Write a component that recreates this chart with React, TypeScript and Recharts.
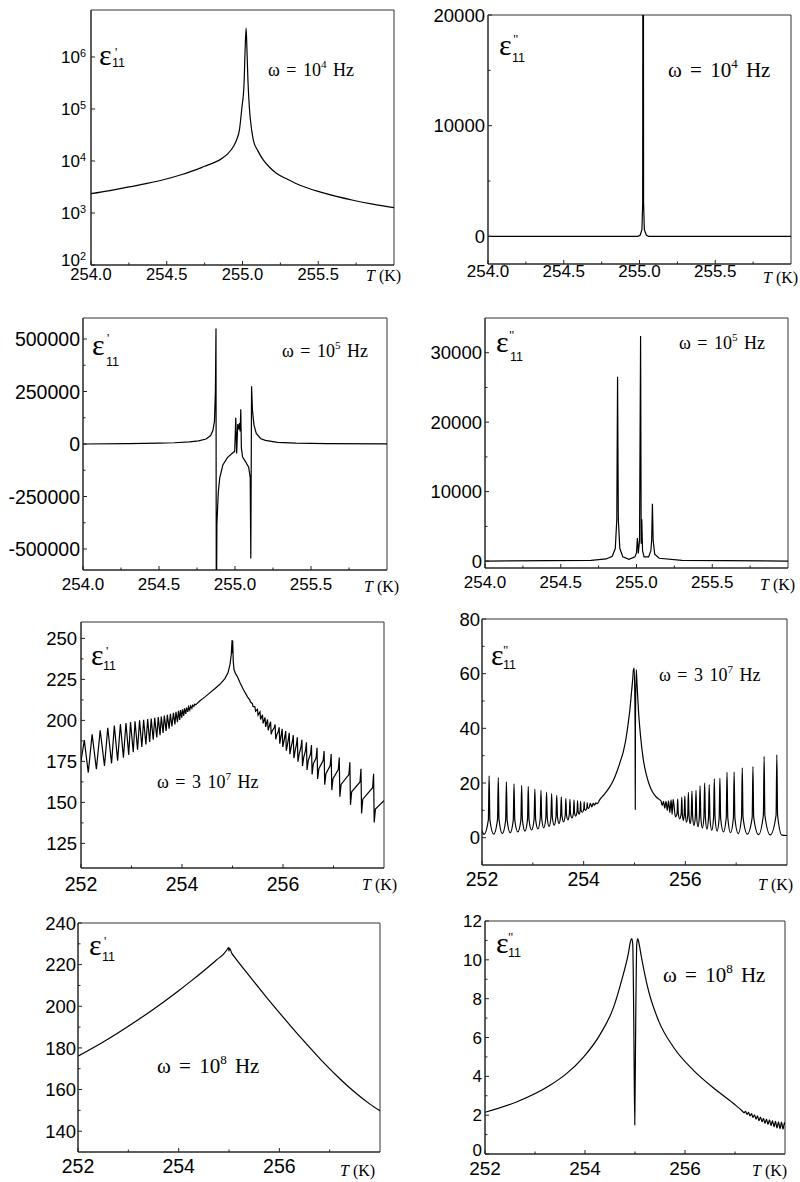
import React from 'react';
import { LineChart, Line, XAxis, YAxis, ReferenceArea } from 'recharts';

type Pt = [number, number];

// ---------------- series values: [T (K), value] ----------------
const epsRe_1e4: Pt[] = [
  [254.0, 2360], [254.125, 2700], [254.25, 3170], [254.37, 3700], [254.49, 4450], [254.6, 5500],
  [254.7, 6900], [254.75, 7900], [254.8, 9000], [254.85, 10500], [254.9, 13500], [254.94, 19000],
  [254.96, 25000], [254.98, 40000], [254.995, 100000], [255.01, 300000], [255.017, 1300000],
  [255.024, 3600000], [255.03, 1200000], [255.036, 350000], [255.046, 100000], [255.06, 40000],
  [255.072, 25000], [255.1, 16000], [255.138, 10350], [255.18, 7500], [255.226, 5730], [255.3, 4400],
  [255.38, 3410], [255.51, 2540], [255.62, 2080], [255.73, 1755], [255.86, 1480], [256.0, 1268],
];

const epsIm_1e4: Pt[] = [
  [254.0, 0], [254.99, 0], [255.005, 120], [255.016, 600], [255.021, 3000], [255.024, 60000],
  [255.027, 3000], [255.032, 600], [255.045, 120], [255.06, 0], [256.0, 0],
];

const epsRe_1e5: Pt[] = [
  [254.0, 0], [254.3, 2000], [254.5, 4000], [254.6, 6000], [254.7, 10000], [254.76, 15000],
  [254.81, 24000], [254.84, 40000], [254.855, 65000], [254.865, 110000], [254.871, 250000],
  [254.875, 550000], [254.877, -900000], [254.881, -380000], [254.89, -230000], [254.9, -160000],
  [254.92, -100000], [254.95, -65000], [254.98, -45000], [254.998, -35000], [255.005, 125000],
  [255.011, -45000], [255.018, 95000], [255.024, 70000], [255.03, 100000], [255.034, 60000],
  [255.038, 165000], [255.042, -20000], [255.05, -62000], [255.07, -85000], [255.09, -110000],
  [255.1, -160000], [255.104, -545000], [255.109, 275000], [255.115, 160000], [255.125, 90000],
  [255.14, 50000], [255.17, 25000], [255.2, 17000], [255.28, 8000], [255.4, 4000], [255.6, 2000],
  [256.0, 800],
];

const epsIm_1e5: Pt[] = [
  [254.0, 0], [254.7, 100], [254.8, 300], [254.84, 700], [254.86, 1800], [254.87, 6000],
  [254.875, 26550], [254.88, 6000], [254.89, 1800], [254.91, 600], [254.95, 250], [254.99, 600],
  [255.0, 1200], [255.006, 3300], [255.012, 1100], [255.02, 3000], [255.027, 32400], [255.031, 2500],
  [255.035, 6030], [255.04, 1500], [255.05, 600], [255.08, 600], [255.095, 1500], [255.1, 3000],
  [255.105, 8240], [255.11, 3000], [255.12, 1000], [255.15, 400], [255.3, 100], [256.0, 0],
];

const epsRe_3e7: Pt[] = [
  [252.0, 175], [252.065, 188], [252.144, 168.2], [252.22, 191.5], [252.305, 170.2],
  [252.38, 194], [252.465, 172.2], [252.53, 195.5], [252.605, 173.8], [252.66, 196.8], [252.725, 175.5],
  [252.78, 197.7], [252.84, 177.2], [252.89, 198.4], [252.945, 179], [252.98, 199], [253.035, 180.6],
  [253.07, 199.5], [253.12, 182.2], [253.16, 200], [253.205, 183.8], [253.24, 200.4], [253.285, 185.3],
  [253.32, 200.8], [253.36, 186.8], [253.39, 201.2], [253.43, 188.2], [253.46, 201.6], [253.5, 189.6],
  [253.53, 202], [253.565, 191], [253.59, 202.4], [253.625, 192.3], [253.65, 202.9], [253.685, 193.6],
  [253.71, 203.4], [253.745, 195], [253.77, 204], [253.8, 196.3], [253.83, 204.6], [253.86, 197.6],
  [253.88, 205.2], [253.91, 199], [253.93, 205.8], [253.955, 200.3], [253.97, 206.3], [253.995, 201.6],
  [254.01, 206.8], [254.035, 202.8], [254.05, 207.3], [254.075, 204], [254.09, 207.8], [254.115, 205.2],
  [254.13, 208.3], [254.155, 206.3], [254.17, 208.8], [254.195, 207.4], [254.21, 209.3], [254.235, 208.5],
  [254.25, 209.8], [254.275, 209.6], [254.35, 211.8], [254.45, 214.2], [254.55, 216.8], [254.65, 219.3],
  [254.75, 222], [254.85, 225.5], [254.91, 229], [254.95, 234], [254.975, 240],
  [254.992, 249], [254.998, 241], [255.004, 248.5], [255.015, 236], [255.03, 231], [255.06, 228.5],
  [255.1, 226.5], [255.15, 223], [255.22, 218.5], [255.3, 214.2],
  [255.344, 212.4], [255.356, 211.2], [255.394, 210.3], [255.406, 208.5],
  [255.444, 208.3], [255.456, 205.6], [255.494, 206.8], [255.506, 203.2], [255.544, 205.2], [255.556, 200.6],
  [255.594, 203.4], [255.606, 198.2], [255.644, 201.8], [255.656, 196.0], [255.694, 200.6], [255.706, 194.0],
  [255.754, 199.2], [255.766, 191.5], [255.785, 193.5], [255.825, 195.5], [255.844, 197.5], [255.856, 188.5],
  [255.88, 191.5], [255.905, 193], [255.924, 195.8], [255.936, 185.8], [255.984, 194.8], [255.996, 183.8],
  [256.02, 187.5], [256.035, 190], [256.054, 193.5], [256.066, 181.5], [256.09, 185.5], [256.105, 188.5],
  [256.124, 192.4], [256.136, 179.4], [256.16, 183.5], [256.185, 187], [256.204, 191.0], [256.216, 177.0],
  [256.24, 181.5], [256.265, 185], [256.284, 189.7], [256.296, 174.8], [256.32, 179.5], [256.355, 183.5],
  [256.374, 188.2], [256.386, 172.2], [256.41, 177.5], [256.445, 181.5], [256.464, 186.7], [256.476, 169.8],
  [256.5, 175.5], [256.545, 179.5], [256.564, 185.0], [256.576, 167.0], [256.6, 173.5], [256.655, 177],
  [256.674, 183.3], [256.686, 164.3], [256.71, 170.5], [256.795, 175.5], [256.814, 181.3], [256.826, 160.8],
  [256.85, 167.5], [256.935, 172.5], [256.954, 179.5], [256.966, 157.5], [256.99, 164.5], [257.095, 170],
  [257.114, 177.3], [257.126, 153.5], [257.15, 161], [257.305, 167], [257.324, 174.5], [257.336, 148.5],
  [257.36, 156.5], [257.525, 162.5], [257.544, 170.5], [257.556, 143.3], [257.58, 152], [257.775, 159],
  [257.794, 167.5], [257.806, 137.8], [257.83, 146], [258.0, 151],
];

const epsIm_3e7: Pt[] = [
  [252.0, 2.5], [252.04, 1.2], [252.125, 6.5], [252.14, 22.6], [252.155, 6.5], [252.23, 1.3],
  [252.305, 6.6], [252.32, 22], [252.335, 6.6], [252.4, 1.5], [252.465, 6.3], [252.48, 20.4], [252.495, 6.3], [252.555, 1.8],
  [252.615, 6.4], [252.63, 19.7], [252.645, 6.4], [252.705, 2.1], [252.765, 6.5], [252.78, 19.1], [252.795, 6.5], [252.845, 2.4],
  [252.895, 6.6], [252.91, 18.7], [252.925, 6.6], [252.975, 2.8], [253.025, 6.7], [253.04, 17.8], [253.055, 6.7], [253.1, 3.2],
  [253.145, 6.9], [253.16, 17.3], [253.175, 6.9], [253.215, 3.6], [253.255, 7.1], [253.27, 16.7], [253.285, 7.1], [253.32, 4.1],
  [253.355, 7.3], [253.37, 16.1], [253.385, 7.3], [253.42, 4.6], [253.455, 7.6], [253.47, 15.5], [253.485, 7.6], [253.515, 5.2],
  [253.546, 7.9], [253.56, 14.9], [253.574, 7.9], [253.605, 5.8], [253.637, 8.2], [253.65, 14.4], [253.663, 8.2], [253.69, 6.5],
  [253.718, 8.7], [253.73, 14], [253.742, 8.7], [253.77, 7.2], [253.799, 9.1], [253.81, 13.8], [253.821, 9.1], [253.845, 7.9],
  [253.87, 9.6], [253.88, 13.6], [253.89, 9.6], [253.91, 8.6], [253.931, 10], [253.94, 13.3], [253.949, 10], [253.975, 9.3],
  [254.002, 10.5], [254.01, 13.1], [254.018, 10.5], [254.04, 10], [254.063, 11], [254.07, 12.8], [254.077, 11], [254.1, 10.7],
  [254.13, 12.6], [254.16, 11.3], [254.19, 12.6], [254.215, 11.9], [254.24, 12.7], [254.265, 12.4],
  [254.32, 14.0], [254.4, 15.7], [254.5, 18.2], [254.58, 20.8], [254.66, 24.5], [254.72, 27.8], [254.78, 31.5],
  [254.83, 36], [254.87, 41], [254.91, 47], [254.94, 53], [254.965, 58], [254.98, 61.5], [254.995, 62],
  [255.012, 40], [255.015, 10.3], [255.018, 40], [255.035, 61.5], [255.05, 56], [255.08, 46], [255.12, 37],
  [255.17, 29], [255.24, 22.5], [255.32, 18], [255.4, 15.5], [255.47, 14.2],
  [255.52, 13.5], [255.545, 11.8], [255.57, 13.3], [255.595, 10.8], [255.62, 13.3], [255.645, 10.0],
  [255.67, 13.5], [255.695, 9.2], [255.72, 13.8], [255.74, 8.5], [255.76, 14.0], [255.805, 7.6],
  [255.838, 9.0], [255.85, 14.2], [255.862, 8.8], [255.89, 6.9], [255.918, 8.8], [255.93, 14.8], [255.942, 8.6], [255.96, 6.3],
  [255.978, 8.4], [255.99, 15.2], [256.002, 8.2], [256.025, 5.7], [256.047, 8.2], [256.06, 16.6], [256.073, 8.0], [256.095, 5.1],
  [256.116, 7.9], [256.13, 17], [256.144, 7.7], [256.17, 4.5], [256.196, 7.6], [256.21, 17.3], [256.224, 7.4], [256.25, 4.0],
  [256.275, 7.7], [256.29, 19], [256.305, 7.5], [256.335, 3.5], [256.365, 7.5], [256.38, 20], [256.395, 7.4], [256.425, 3.1],
  [256.455, 7], [256.47, 19.3], [256.485, 6.9], [256.52, 2.7], [256.555, 7.3], [256.57, 21.5], [256.585, 7.2], [256.625, 2.4],
  [256.665, 7.1], [256.68, 21.7], [256.695, 7.0], [256.75, 2.1], [256.805, 7.4], [256.82, 23.9], [256.835, 7.4], [256.89, 1.8],
  [256.945, 7.2], [256.96, 24], [256.975, 7.2], [257.04, 1.5], [257.105, 7.4], [257.12, 25.5], [257.135, 7.4], [257.22, 1.3],
  [257.315, 7.4], [257.33, 26], [257.345, 7.4], [257.44, 1.1], [257.535, 8.2], [257.55, 29.7], [257.565, 8.2], [257.67, 1.0],
  [257.785, 8.2], [257.8, 30.3], [257.815, 8.2], [257.9, 0.9], [258.0, 0.8],
];

const epsRe_1e8: Pt[] = [
  [252.0, 176], [252.5, 182.8], [253.0, 190.4], [253.5, 198.6], [254.0, 207.5], [254.25, 212.2],
  [254.5, 217.1], [254.75, 222.2], [254.9, 225.3], [254.97, 227.5], [254.99, 228.2], [255.0, 226.5],
  [255.01, 228], [255.03, 227], [255.06, 225.3], [255.1, 224], [255.4, 214.7], [255.75, 204.2],
  [256.1, 194.1], [256.45, 184.3], [256.8, 175.0], [257.15, 166.4], [257.5, 158.7], [257.8, 153.0],
  [258.0, 149.8],
];

const epsIm_1e8: Pt[] = [
  [252.0, 2.15], [252.63, 2.68], [253.3, 3.54], [253.63, 4.14], [253.97, 4.99], [254.3, 6.15],
  [254.57, 7.55], [254.73, 8.92], [254.87, 10.37], [254.91, 10.95], [254.935, 11.1], [254.955, 10.8],
  [254.975, 7], [254.995, 1.5], [255.015, 7], [255.035, 10.8], [255.055, 11.1], [255.08, 10.85],
  [255.13, 10.12], [255.27, 8.41], [255.47, 6.87], [255.77, 5.5], [256.17, 4.31], [256.63, 3.28],
  [256.97, 2.6], [257.15, 2.2], [257.18, 2.12], [257.21, 2.2], [257.24, 2.04], [257.27, 2.14], [257.3, 1.96],
  [257.33, 2.08], [257.36, 1.88], [257.39, 2.02], [257.42, 1.8], [257.45, 1.96], [257.48, 1.72], [257.51, 1.9],
  [257.54, 1.66], [257.57, 1.84], [257.6, 1.58], [257.63, 1.8], [257.66, 1.52], [257.69, 1.76], [257.72, 1.46],
  [257.75, 1.72], [257.78, 1.4], [257.81, 1.68], [257.84, 1.34], [257.87, 1.66], [257.9, 1.3], [257.93, 1.64],
  [257.96, 1.28], [257.99, 1.62], [258.0, 1.5],
];

// ---------------- ticks & labels ----------------
const xMajorA = [254.0, 254.5, 255.0, 255.5];
const xMinorA = [254.25, 254.75, 255.25, 255.75];
const xLabelsA = ['254.0', '254.5', '255.0', '255.5'];
const xMajorB = [252, 254, 256];
const xMinorB = [253, 255, 257];
const xLabelsB = ['252', '254', '256'];

const y1Major = [1e2, 1e3, 1e4, 1e5, 1e6];
const y1Exps = ['2', '3', '4', '5', '6'];
const y2Major = [0, 10000, 20000];
const y2Minor = [5000, 15000];
const y3Major = [-500000, -250000, 0, 250000, 500000];
const y3Minor = [-375000, -125000, 125000, 375000];
const y4Major = [0, 10000, 20000, 30000];
const y4Minor = [5000, 15000, 25000];
const y5Major = [125, 150, 175, 200, 225, 250];
const y5Minor = [137.5, 162.5, 187.5, 212.5, 237.5];
const y6Major = [0, 20, 40, 60, 80];
const y6Minor = [10, 30, 50, 70];
const y7Major = [140, 160, 180, 200, 220, 240];
const y7Minor = [150, 170, 190, 210, 230];
const y8Major = [0, 2, 4, 6, 8, 10, 12];
const y8Minor = [1, 3, 5, 7, 9, 11];

const SANS = '"Liberation Sans", Arial, Helvetica, sans-serif';
const SERIF = '"Liberation Serif", "Times New Roman", Times, serif';
const AX = '#222';

interface Spec {
  data: Pt[];
  col: number;
  l: number; t: number; r: number; b: number;
  xDomain: [number, number];
  yDomain: [number, number];
  xMajor: number[]; xMinor: number[]; xLabels: string[];
  yMajor: number[]; yMinor: number[]; yExps?: string[];
  log?: boolean;
  xFont: number; xGap: number; yFont: number; yGap: number; yLowShift: number;
  curve: 'linear' | 'monotone';
}

const panels: Spec[] = [
  { data: epsRe_1e4, col: 0, l: 91, t: 10, r: 394, b: 265, xDomain: [254, 256], yDomain: [100, 8e6],
    xMajor: xMajorA, xMinor: xMinorA, xLabels: xLabelsA, yMajor: y1Major, yMinor: [], yExps: y1Exps, log: true,
    xFont: 16.5, xGap: 3, yFont: 17, yGap: 5, yLowShift: -5, curve: 'monotone' },
  { data: epsIm_1e4, col: 1, l: 488, t: 15, r: 791, b: 264, xDomain: [254, 256], yDomain: [-2500, 20000],
    xMajor: xMajorA, xMinor: xMinorA, xLabels: xLabelsA, yMajor: y2Major, yMinor: y2Minor,
    xFont: 17, xGap: 1, yFont: 18.5, yGap: 3, yLowShift: 0, curve: 'linear' },
  { data: epsRe_1e5, col: 0, l: 83, t: 318, r: 387, b: 570, xDomain: [254, 256], yDomain: [-600000, 600000],
    xMajor: xMajorA, xMinor: xMinorA, xLabels: xLabelsA, yMajor: y3Major, yMinor: y3Minor,
    xFont: 17, xGap: 8, yFont: 19.5, yGap: 3, yLowShift: 0, curve: 'linear' },
  { data: epsIm_1e5, col: 1, l: 485, t: 318, r: 788, b: 568, xDomain: [254, 256], yDomain: [-1000, 35000],
    xMajor: xMajorA, xMinor: xMinorA, xLabels: xLabelsA, yMajor: y4Major, yMinor: y4Minor,
    xFont: 17, xGap: 8, yFont: 18.5, yGap: 3, yLowShift: 0, curve: 'linear' },
  { data: epsRe_3e7, col: 0, l: 81, t: 622, r: 384, b: 868, xDomain: [252, 258], yDomain: [110, 260],
    xMajor: xMajorB, xMinor: xMinorB, xLabels: xLabelsB, yMajor: y5Major, yMinor: y5Minor,
    xFont: 19.5, xGap: 9, yFont: 18.5, yGap: 4, yLowShift: 0, curve: 'linear' },
  { data: epsIm_3e7, col: 1, l: 482, t: 619, r: 787, b: 865, xDomain: [252, 258], yDomain: [-10, 80],
    xMajor: xMajorB, xMinor: xMinorB, xLabels: xLabelsB, yMajor: y6Major, yMinor: y6Minor,
    xFont: 19.5, xGap: 7, yFont: 18.5, yGap: 2, yLowShift: 0, curve: 'monotone' },
  { data: epsRe_1e8, col: 0, l: 78, t: 923, r: 380, b: 1152, xDomain: [252, 258], yDomain: [130, 240],
    xMajor: xMajorB, xMinor: xMinorB, xLabels: xLabelsB, yMajor: y7Major, yMinor: y7Minor,
    xFont: 19.5, xGap: 7, yFont: 18.5, yGap: 2, yLowShift: 0, curve: 'monotone' },
  { data: epsIm_1e8, col: 1, l: 485, t: 921, r: 785, b: 1154, xDomain: [252, 258], yDomain: [0, 12],
    xMajor: xMajorB, xMinor: xMinorB, xLabels: xLabelsB, yMajor: y8Major, yMinor: y8Minor,
    xFont: 19, xGap: 7, yFont: 17, yGap: 3, yLowShift: -4, curve: 'monotone' },
];

const XTick = (p: any) => {
  const { x, y, payload, s } = p;
  const spec: Spec = s;
  const i = spec.xMajor.indexOf(payload.value);
  const len = i >= 0 ? 4 : 2.5;
  return (
    <g>
      <line x1={x} y1={y} x2={x} y2={y - len} stroke={AX} strokeWidth={1} />
      {i >= 0 ? (
        <text x={x} y={y + spec.xGap} dy="0.72em" textAnchor="middle" fontFamily={SANS} fontSize={spec.xFont} fill="#000">
          {spec.xLabels[i]}
        </text>
      ) : null}
    </g>
  );
};

const YTick = (p: any) => {
  const { x, y, payload, s } = p;
  const spec: Spec = s;
  const i = spec.yMajor.indexOf(payload.value);
  const len = i >= 0 ? 4 : 2.5;
  const ty = i === 0 ? y + spec.yLowShift : y;
  let label: React.ReactNode = null;
  if (i >= 0) {
    if (spec.yExps) {
      label = (
        <text x={x - spec.yGap} y={ty} dy="0.36em" textAnchor="end" fontFamily={SANS} fontSize={spec.yFont} fill="#000">
          10<tspan dy={-6} fontSize={spec.yFont * 0.64}>{spec.yExps[i]}</tspan>
        </text>
      );
    } else {
      label = (
        <text x={x - spec.yGap} y={ty} dy="0.36em" textAnchor="end" fontFamily={SANS} fontSize={spec.yFont} fill="#000">
          {String(spec.yMajor[i])}
        </text>
      );
    }
  }
  return (
    <g>
      <line x1={x} y1={y} x2={x + len} y2={y} stroke={AX} strokeWidth={1} />
      {label}
    </g>
  );
};

function Panel({ s }: { s: Spec }) {
  const chartLeft = s.col * 400;
  const chartTop = s.t - 12;
  const height = s.b - chartTop + 34;
  const data = s.data.map(([T, v]) => ({ T, v }));
  return (
    <div style={{ position: 'absolute', left: chartLeft, top: chartTop }}>
      <LineChart width={400} height={height} data={data}
        margin={{ top: 12, right: chartLeft + 400 - s.r, bottom: 0, left: 0 }}>
        <XAxis dataKey="T" type="number" domain={s.xDomain} ticks={[...s.xMajor, ...s.xMinor]} interval={0}
          allowDataOverflow tickSize={0} tickMargin={0} height={34} axisLine={{ stroke: AX }} tickLine={false}
          tick={(p: any) => <XTick {...p} s={s} />} />
        <YAxis type="number" domain={s.yDomain} ticks={[...s.yMajor, ...s.yMinor]} interval={0}
          scale={s.log ? 'log' : 'auto'} allowDataOverflow tickSize={0} tickMargin={0} width={s.l - chartLeft}
          axisLine={{ stroke: AX }} tickLine={false} tick={(p: any) => <YTick {...p} s={s} />} />
        <ReferenceArea x1={s.xDomain[0]} x2={s.xDomain[1]} y1={s.yDomain[0]} y2={s.yDomain[1]}
          fill="none" fillOpacity={0} stroke="#333" strokeWidth={1} ifOverflow="visible" />
        <Line type={s.curve} dataKey="v" stroke="#000" strokeWidth={1.2} dot={false} isAnimationActive={false} />
      </LineChart>
    </div>
  );
}

// ---------------- text labels ----------------
interface EpsLab { x: number; y: number; marks: string; px: number; py: number; sx: number; sy: number }
const epsLabels: EpsLab[] = [
  { x: 99, y: 65, marks: "'", px: 115, py: 56, sx: 112, sy: 67 },
  { x: 499, y: 55, marks: '"', px: 513, py: 43, sx: 512, sy: 62 },
  { x: 92, y: 355, marks: "'", px: 107, py: 342, sx: 106, sy: 366 },
  { x: 496, y: 352, marks: '"', px: 509, py: 339, sx: 510, sy: 361 },
  { x: 91, y: 665, marks: "'", px: 106, py: 655, sx: 103, sy: 670 },
  { x: 491, y: 665, marks: '"', px: 503, py: 654, sx: 503, sy: 669 },
  { x: 89, y: 955, marks: "'", px: 104, py: 945, sx: 102, sy: 961 },
  { x: 496, y: 953, marks: '"', px: 508, py: 941, sx: 508, sy: 957 },
];

interface OmLab { x: number; y: number; size: number; pre: string; exp: string; ws: number }
const omegaLabels: OmLab[] = [
  { x: 268, y: 76, size: 18, pre: '', exp: '4', ws: 2 },
  { x: 668, y: 77, size: 21, pre: '', exp: '4', ws: 3 },
  { x: 282, y: 357, size: 18, pre: '', exp: '5', ws: 2 },
  { x: 679, y: 349, size: 18, pre: '', exp: '5', ws: 2 },
  { x: 157, y: 788, size: 18, pre: '3 ', exp: '7', ws: 2 },
  { x: 659, y: 681, size: 18, pre: '3 ', exp: '7', ws: 2 },
  { x: 157, y: 1073, size: 21, pre: '', exp: '8', ws: 3 },
  { x: 663, y: 982, size: 21, pre: '', exp: '8', ws: 3 },
];

const tkLabels: { x: number; y: number }[] = [
  { x: 366, y: 281 }, { x: 763, y: 283 }, { x: 364, y: 592 }, { x: 760, y: 590 },
  { x: 362, y: 890 }, { x: 758, y: 890 }, { x: 340, y: 1176 }, { x: 752, y: 1176 },
];

export default function App() {
  return (
    <div style={{ position: 'absolute', left: 0, top: 0, width: 800, height: 1182, background: '#fff', overflow: 'hidden' }}>
      {panels.map((s, i) => <Panel key={i} s={s} />)}
      <svg width={800} height={1182} style={{ position: 'absolute', left: 0, top: 0, pointerEvents: 'none' }}>
        {epsLabels.map((e, i) => (
          <g key={'e' + i}>
            <text x={e.x} y={e.y} fontFamily={SERIF} fontSize={30} fill="#000">ε</text>
            <text x={e.px} y={e.py} fontFamily={SERIF} fontSize={13} fill="#000">{e.marks}</text>
            <text x={e.sx} y={e.sy} fontFamily={SANS} fontSize={12.5} fill="#000">11</text>
          </g>
        ))}
        {omegaLabels.map((o, i) => (
          <text key={'o' + i} x={o.x} y={o.y} fontFamily={SERIF} fontSize={o.size} fill="#000" wordSpacing={o.ws}>
            {`ω = ${o.pre}10`}
            <tspan dy={-o.size * 0.42} fontSize={o.size * 0.62}>{o.exp}</tspan>
            <tspan dy={o.size * 0.42}>{' Hz'}</tspan>
          </text>
        ))}
        {tkLabels.map((t, i) => (
          <text key={'t' + i} x={t.x} y={t.y} fontFamily={SERIF} fontSize={16} fill="#000">
            <tspan fontStyle="italic">T</tspan>{' (K)'}
          </text>
        ))}
      </svg>
    </div>
  );
}
